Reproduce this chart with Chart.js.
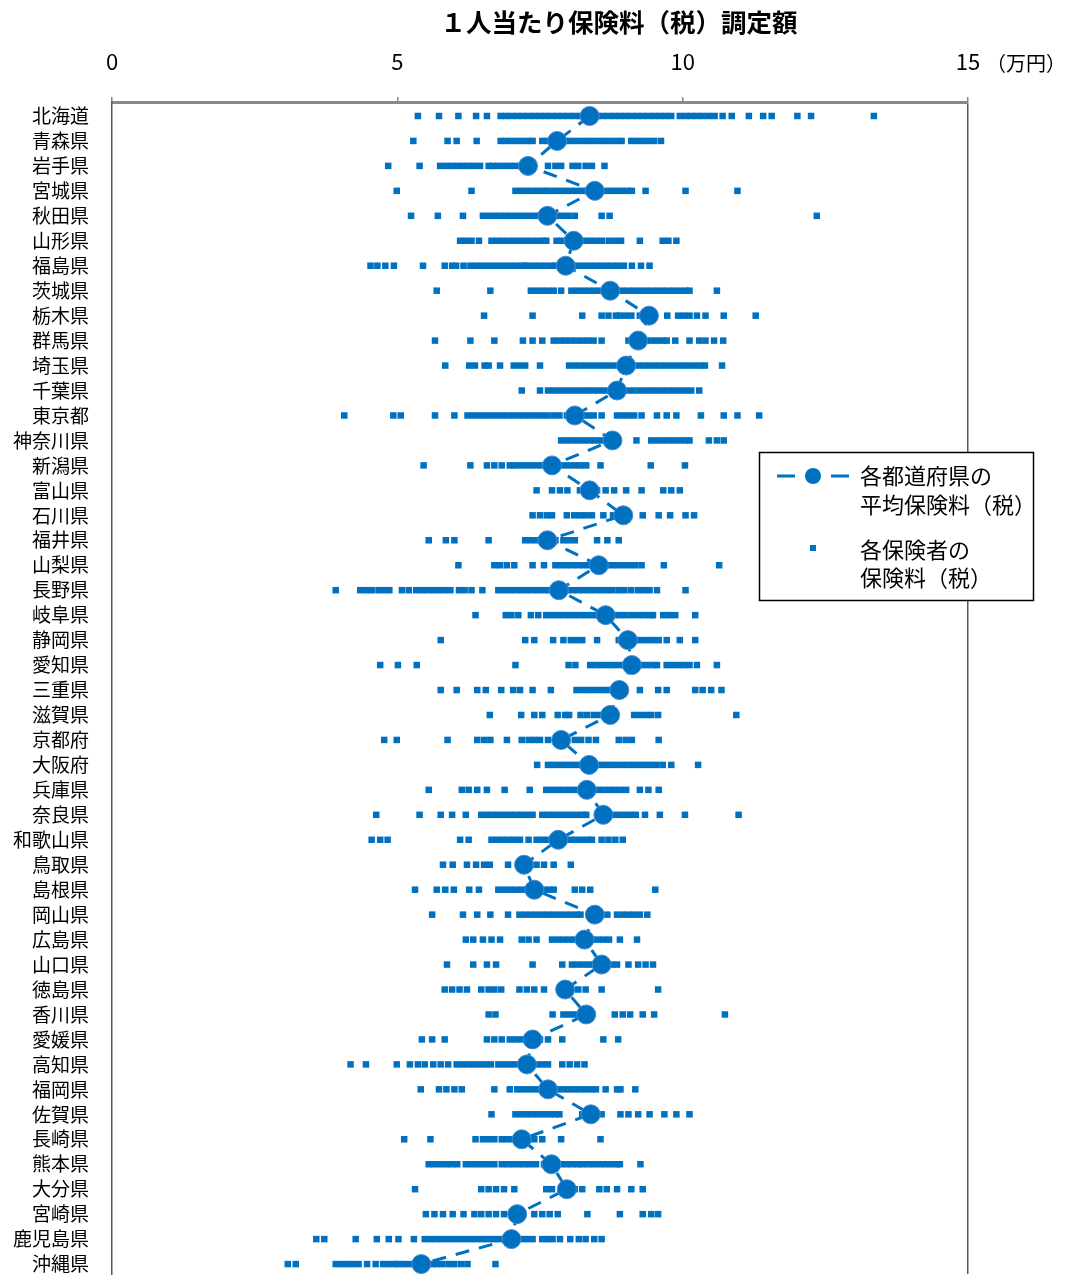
<!DOCTYPE html>
<html>
<head>
<meta charset="utf-8">
<script src="https://cdn.jsdelivr.net/npm/chart.js@4.4.1/dist/chart.umd.min.js"></script>
<style>
  html, body { margin: 0; padding: 0; background: #fff; }
  canvas { display: block; }
</style>
</head>
<body>
<canvas id="chart" width="1070" height="1275"></canvas>
<script>
var titleText = "１人当たり保険料（税）調定額";
var unitText = "（万円）";
var xTicks = [0, 5, 10, 15];

var prefs = ["北海道","青森県","岩手県","宮城県","秋田県","山形県","福島県","茨城県","栃木県","群馬県",
  "埼玉県","千葉県","東京都","神奈川県","新潟県","富山県","石川県","福井県","山梨県","長野県",
  "岐阜県","静岡県","愛知県","三重県","滋賀県","京都府","大阪府","兵庫県","奈良県","和歌山県",
  "鳥取県","島根県","岡山県","広島県","山口県","徳島県","香川県","愛媛県","高知県","福岡県",
  "佐賀県","長崎県","熊本県","大分県","宮崎県","鹿児島県","沖縄県"];

// 各都道府県の平均保険料(税)  (万円)
var means = [8.37,7.80,7.29,8.46,7.63,8.09,7.95,8.73,9.41,9.22,
  9.01,8.85,8.11,8.77,7.71,8.37,8.96,7.63,8.53,7.83,
  8.65,9.04,9.11,8.89,8.73,7.87,8.36,8.32,8.61,7.82,
  7.22,7.40,8.46,8.28,8.58,7.94,8.31,7.37,7.27,7.64,
  8.39,7.18,7.70,7.97,7.10,7.00,5.42];

// 各保険者の保険料(税)  (万円), one row per prefecture
var rates = [
  [5.36,5.73,6.07,6.38,6.57,6.81,6.9,7.0,7.1,7.2,7.3,7.4,7.5,7.6,7.7,7.8,7.9,8.0,8.1,8.2,8.3,8.4,8.5,8.6,8.7,8.8,8.9,9.0,9.1,9.2,9.3,9.4,9.5,9.6,9.7,9.8,9.95,10.05,10.15,10.25,10.35,10.46,10.56,10.7,10.86,11.16,11.41,11.56,12.01,12.25,13.35], // 北海道
  [5.28,5.88,6.04,6.39,6.81,6.9,7.0,7.1,7.2,7.3,7.37,7.54,7.64,7.74,7.84,7.94,8.04,8.14,8.24,8.34,8.44,8.54,8.64,8.74,8.84,8.93,9.1,9.2,9.3,9.4,9.5,9.62], // 青森
  [4.84,5.39,5.75,5.85,5.95,6.05,6.15,6.25,6.35,6.45,6.6,6.67,6.77,6.87,6.97,7.07,7.17,7.24,7.64,7.77,7.87,8.07,8.17,8.3,8.41,8.63], // 岩手
  [4.99,6.3,7.07,7.17,7.27,7.37,7.47,7.57,7.64,7.74,7.84,7.94,8.04,8.14,8.24,8.34,8.44,8.54,8.64,8.74,8.84,8.94,9.04,9.11,9.35,10.05,10.96], // 宮城
  [5.24,5.71,6.15,6.5,6.6,6.7,6.8,6.9,7.0,7.1,7.2,7.3,7.4,7.5,7.6,7.7,7.8,7.9,8.0,8.11,8.58,8.72,12.35], // 秋田
  [6.1,6.2,6.3,6.43,6.65,6.75,6.85,6.95,7.05,7.15,7.25,7.35,7.45,7.55,7.61,7.79,7.89,7.99,8.09,8.19,8.29,8.39,8.49,8.59,8.71,8.82,8.92,9.25,9.65,9.75,9.89], // 山形
  [4.53,4.65,4.79,4.94,5.45,5.83,5.96,6.03,6.16,6.28,6.38,6.48,6.58,6.68,6.78,6.88,6.98,7.08,7.18,7.24,7.3,7.4,7.5,7.6,7.7,7.77,7.87,7.97,8.07,8.17,8.27,8.37,8.47,8.57,8.67,8.77,8.87,8.97,9.11,9.27,9.42], // 福島
  [5.69,6.63,7.34,7.44,7.54,7.64,7.74,7.87,8.05,8.15,8.25,8.35,8.45,8.55,8.65,8.75,8.85,8.95,9.05,9.15,9.25,9.35,9.45,9.55,9.65,9.75,9.85,9.95,10.05,10.12,10.6], // 茨城
  [6.52,7.37,8.24,8.58,8.7,8.83,8.9,9.0,9.1,9.25,9.73,9.92,10.02,10.12,10.25,10.4,10.72,11.28], // 栃木
  [5.66,6.28,6.7,7.2,7.37,7.54,7.74,7.84,7.94,8.04,8.14,8.24,8.34,8.44,8.58,9.05,9.15,9.25,9.35,9.45,9.55,9.65,9.72,9.87,10.12,10.29,10.4,10.55,10.71], // 群馬
  [5.84,6.26,6.36,6.53,6.6,6.8,7.04,7.14,7.24,7.5,8.01,8.11,8.21,8.31,8.41,8.51,8.61,8.71,8.81,8.91,9.01,9.11,9.21,9.31,9.41,9.51,9.61,9.71,9.81,9.91,10.01,10.11,10.21,10.31,10.39,10.69], // 埼玉
  [7.18,7.5,7.64,7.74,7.84,7.94,8.04,8.14,8.24,8.34,8.44,8.54,8.64,8.74,8.84,8.94,9.04,9.14,9.25,9.35,9.45,9.55,9.65,9.75,9.85,9.95,10.05,10.15,10.29], // 千葉
  [4.07,4.93,5.06,5.66,6.0,6.23,6.33,6.43,6.53,6.63,6.73,6.83,6.93,7.03,7.13,7.23,7.33,7.43,7.53,7.63,7.74,7.84,7.97,8.24,8.34,8.44,8.58,8.85,8.95,9.05,9.15,9.28,9.55,9.72,9.89,10.32,10.72,10.96,11.34], // 東京
  [7.87,7.97,8.07,8.17,8.27,8.37,8.47,8.57,8.65,9.19,9.45,9.55,9.65,9.75,9.85,9.95,10.05,10.12,10.46,10.6,10.72], // 神奈川
  [5.46,6.28,6.57,6.7,6.83,6.97,7.04,7.14,7.24,7.34,7.44,7.54,7.64,7.77,7.91,8.01,8.11,8.21,8.31,8.56,9.44,10.04], // 新潟
  [7.44,7.71,7.85,7.98,8.2,8.35,8.5,8.65,8.8,9.01,9.28,9.66,9.8,9.95], // 富山
  [7.37,7.5,7.62,7.71,7.97,8.1,8.2,8.3,8.41,8.61,8.78,9.3,9.58,9.78,10.05,10.2], // 石川
  [5.55,5.85,6.0,6.6,7.24,7.34,7.44,7.54,7.64,7.77,7.91,8.01,8.11,8.5,8.68,8.88], // 福井
  [6.07,6.7,6.8,6.92,7.05,7.37,7.57,7.77,7.87,7.97,8.07,8.17,8.27,8.37,8.47,8.57,8.67,8.77,8.87,8.97,9.07,9.17,9.28,9.67,10.64], // 山梨
  [3.92,4.35,4.45,4.55,4.67,4.77,4.86,5.08,5.2,5.33,5.43,5.53,5.63,5.73,5.83,5.93,6.08,6.18,6.3,6.49,6.77,6.87,6.97,7.07,7.17,7.27,7.37,7.47,7.57,7.67,7.77,7.87,7.97,8.07,8.17,8.27,8.37,8.47,8.57,8.67,8.77,8.88,8.98,9.1,9.22,9.32,9.42,9.55,10.05], // 長野
  [6.37,6.9,7.0,7.12,7.34,7.47,7.61,7.71,7.81,7.91,8.01,8.11,8.21,8.31,8.41,8.51,8.61,8.71,8.81,8.91,9.0,9.11,9.22,9.32,9.42,9.48,9.66,9.76,9.87,10.22], // 岐阜
  [5.76,7.24,7.4,7.73,7.91,8.04,8.14,8.24,8.5,8.88,8.98,9.08,9.18,9.28,9.38,9.48,9.58,9.72,9.95,10.22], // 静岡
  [4.7,5.01,5.34,7.07,8.0,8.12,8.38,8.48,8.58,8.68,8.78,8.88,8.98,9.08,9.18,9.28,9.38,9.48,9.55,9.72,9.82,9.92,10.02,10.12,10.25,10.6], // 愛知
  [5.76,6.04,6.4,6.55,6.82,7.03,7.15,7.37,7.69,8.14,8.24,8.34,8.44,8.54,8.64,8.74,8.85,9.25,9.57,9.72,10.22,10.35,10.5,10.68], // 三重
  [6.62,7.17,7.4,7.54,7.81,7.94,8.01,8.21,8.32,8.44,8.54,8.65,9.15,9.25,9.35,9.45,9.57,10.94], // 滋賀
  [4.77,4.99,5.88,6.4,6.52,6.63,6.92,7.18,7.3,7.4,7.5,7.64,8.11,8.22,8.35,8.48,8.88,9.0,9.11,9.58], // 京都
  [7.45,7.64,7.74,7.84,7.94,8.04,8.14,8.24,8.34,8.44,8.54,8.64,8.74,8.84,8.94,9.04,9.14,9.24,9.34,9.44,9.54,9.65,9.8,10.27], // 大阪
  [5.55,6.13,6.25,6.4,6.57,6.88,7.32,7.61,7.71,7.81,7.91,8.01,8.11,8.21,8.31,8.41,8.51,8.61,8.71,8.81,8.91,9.01,9.25,9.4,9.58], // 兵庫
  [4.63,5.39,5.76,5.96,6.2,6.47,6.57,6.67,6.77,6.87,6.97,7.07,7.17,7.27,7.37,7.54,7.64,7.74,7.84,7.94,8.04,8.14,8.24,8.31,8.78,8.88,8.98,9.08,9.18,9.34,9.6,10.04,10.98], // 奈良
  [4.55,4.7,4.83,6.1,6.25,6.65,6.75,6.85,6.95,7.05,7.15,7.3,7.44,7.54,7.64,7.74,7.84,7.94,8.04,8.14,8.24,8.34,8.41,8.58,8.7,8.82,8.95], // 和歌山
  [5.8,5.97,6.22,6.38,6.52,6.62,6.94,7.3,7.44,7.57,7.74,8.04], // 鳥取
  [5.31,5.69,5.84,5.99,6.26,6.43,6.77,6.87,6.97,7.07,7.17,7.27,7.37,7.47,7.57,7.67,7.74,8.11,8.24,8.38,9.52], // 島根
  [5.61,6.15,6.4,6.63,6.94,7.14,7.24,7.34,7.44,7.54,7.64,7.74,7.84,7.94,8.04,8.14,8.21,8.68,8.85,8.95,9.05,9.15,9.25,9.38], // 岡山
  [6.2,6.33,6.5,6.65,6.8,7.18,7.3,7.44,7.71,7.81,7.91,8.01,8.11,8.21,8.31,8.41,8.51,8.61,8.71,8.9,9.2], // 広島
  [5.87,6.33,6.57,6.73,7.37,7.89,8.06,8.16,8.26,8.36,8.46,8.56,8.66,8.76,8.85,9.05,9.22,9.35,9.48], // 山口
  [5.83,5.96,6.09,6.22,6.47,6.6,6.7,6.82,7.14,7.27,7.4,7.57,8.04,8.17,8.3,8.58,9.57], // 徳島
  [6.6,6.72,7.72,7.91,8.01,8.11,8.24,8.81,8.95,9.08,9.3,9.5,10.74], // 香川
  [5.43,5.61,5.83,6.57,6.7,6.83,6.97,7.07,7.17,7.27,7.4,7.5,7.64,7.89,8.61,8.87], // 愛媛
  [4.18,4.45,4.99,5.22,5.36,5.48,5.63,5.76,5.89,6.04,6.14,6.24,6.34,6.44,6.54,6.64,6.77,6.87,6.97,7.07,7.34,7.44,7.54,7.64,7.89,8.02,8.15,8.28], // 高知
  [5.41,5.73,5.86,6.0,6.13,6.7,6.97,7.1,7.2,7.3,7.4,7.5,7.6,7.7,7.8,7.9,8.0,8.1,8.2,8.3,8.4,8.48,8.65,8.85,8.91,9.17], // 福岡
  [6.65,7.07,7.17,7.27,7.37,7.47,7.57,7.67,7.77,7.84,8.24,8.34,8.44,8.58,8.91,9.05,9.22,9.42,9.68,9.89,10.12], // 佐賀
  [5.12,5.58,6.37,6.5,6.6,6.7,6.83,6.9,7.0,7.1,7.2,7.3,7.4,7.54,7.87,8.56], // 長崎
  [5.55,5.65,5.75,5.85,5.95,6.05,6.2,6.3,6.4,6.5,6.6,6.7,6.83,6.93,7.03,7.13,7.23,7.33,7.43,7.57,7.67,7.77,7.87,7.97,8.07,8.17,8.24,8.34,8.44,8.54,8.64,8.74,8.84,8.9,9.26], // 熊本
  [5.31,6.47,6.6,6.73,6.87,7.05,7.61,7.71,8.11,8.24,8.54,8.67,8.85,9.1,9.3], // 大分
  [5.5,5.65,5.8,5.97,6.16,6.35,6.47,6.6,6.73,6.87,7.4,7.54,7.67,7.81,8.33,8.9,9.3,9.45,9.57], // 宮崎
  [3.58,3.72,4.27,4.64,4.85,5.02,5.29,5.48,5.58,5.68,5.78,5.88,5.98,6.08,6.18,6.28,6.38,6.48,6.58,6.68,6.78,6.88,6.98,7.08,7.17,7.27,7.37,7.54,7.64,7.72,7.85,8.03,8.18,8.3,8.45,8.58], // 鹿児島
  [3.08,3.22,3.92,4.02,4.12,4.22,4.32,4.47,4.62,4.75,4.85,4.96,5.02,5.12,5.22,5.32,5.42,5.52,5.62,5.69,5.79,5.9,6.0,6.12,6.23,6.72] // 沖縄
];

var legendLabels = [["各都道府県の", "平均保険料（税）"], ["各保険者の", "保険料（税）"]];

var blue = "#0070C0";
var jaFont = '"Noto Sans CJK JP", "Noto Sans", sans-serif';

var insurerPts = [];
rates.forEach(function (row, i) {
  row.forEach(function (v) { insurerPts.push({ x: v, y: i }); });
});
var meanPts = means.map(function (v, i) { return { x: v, y: i }; });

// title, unit and the boxed legend are drawn by hand
var extras = {
  id: "extras",
  afterDraw: function (chart) {
    var ctx = chart.ctx;
    var xs = chart.scales.x;
    ctx.save();
    ctx.fillStyle = "#000";
    ctx.textBaseline = "middle";

    ctx.font = "bold 25.5px " + jaFont;
    ctx.textAlign = "center";
    ctx.fillText(titleText, 619, 22);

    ctx.font = "20px " + jaFont;
    ctx.textAlign = "left";
    ctx.fillText(unitText, xs.getPixelForValue(15) + 18, 63);

    // legend box
    var bx = 759.5, by = 452.5, bw = 274, bh = 148;
    ctx.fillStyle = "#fff";
    ctx.fillRect(bx, by, bw, bh);
    ctx.strokeStyle = "#000";
    ctx.lineWidth = 1.5;
    ctx.strokeRect(bx, by, bw, bh);

    ctx.strokeStyle = blue;
    ctx.lineWidth = 3;
    ctx.beginPath();
    ctx.moveTo(777, 476); ctx.lineTo(795, 476);
    ctx.moveTo(831, 476); ctx.lineTo(849, 476);
    ctx.stroke();
    ctx.fillStyle = blue;
    ctx.beginPath();
    ctx.arc(813, 476, 8, 0, Math.PI * 2);
    ctx.fill();
    ctx.fillRect(810, 545, 6, 6);

    ctx.fillStyle = "#000";
    ctx.font = "22px " + jaFont;
    ctx.fillText(legendLabels[0][0], 860, 476);
    ctx.fillText(legendLabels[0][1], 860, 505);
    ctx.fillText(legendLabels[1][0], 860, 550);
    ctx.fillText(legendLabels[1][1], 860, 578);
    ctx.restore();
  }
};

new Chart(document.getElementById("chart"), {
  type: "scatter",
  data: {
    datasets: [
      {
        label: "各都道府県の平均保険料(税)",
        data: meanPts,
        showLine: true,
        borderColor: blue,
        borderWidth: 3,
        borderDash: [14, 10],
        pointRadius: 9.5,
        pointBackgroundColor: blue,
        pointBorderColor: "#4a8bd0",
        pointBorderWidth: 1,
        order: 0
      },
      {
        label: "各保険者の保険料(税)",
        data: insurerPts,
        pointStyle: "rect",
        pointRadius: 4.6,
        backgroundColor: blue,
        borderColor: blue,
        borderWidth: 0,
        order: 1
      }
    ]
  },
  options: {
    responsive: false,
    animation: false,
    layout: { autoPadding: false, padding: { left: 0, right: 102, top: 0, bottom: 0 } },
    plugins: {
      legend: { display: false },
      tooltip: { enabled: false },
      title: { display: false }
    },
    scales: {
      x: {
        type: "linear",
        position: "top",
        min: 0,
        max: 15,
        afterBuildTicks: function (s) { s.ticks = xTicks.map(function (v) { return { value: v }; }); },
        afterFit: function (s) { s.height = 102; },
        ticks: { font: { family: jaFont, size: 22 }, color: "#000", padding: 22 },
        grid: {
          color: function (c) { return c.tick && c.tick.value === 15 ? "#595959" : "rgba(0,0,0,0)"; },
          lineWidth: 1.5,
          drawTicks: true,
          tickLength: 5,
          tickColor: "#888"
        },
        border: { color: "#888", width: 3 }
      },
      y: {
        type: "linear",
        reverse: true,
        min: -0.56,
        max: 46.4,
        afterBuildTicks: function (s) { s.ticks = prefs.map(function (p, i) { return { value: i }; }); },
        afterFit: function (s) { s.width = 112; },
        ticks: {
          autoSkip: false,
          callback: function (v) { return prefs[v]; },
          font: { family: jaFont, size: 19, lineHeight: 0.1 },
          color: "#000",
          padding: 0
        },
        grid: { color: "rgba(0,0,0,0)", drawTicks: true, tickLength: 23, tickColor: "rgba(0,0,0,0)" },
        border: { color: "#595959", width: 1.5 }
      }
    }
  },
  plugins: [extras]
});
</script>
</body>
</html>
